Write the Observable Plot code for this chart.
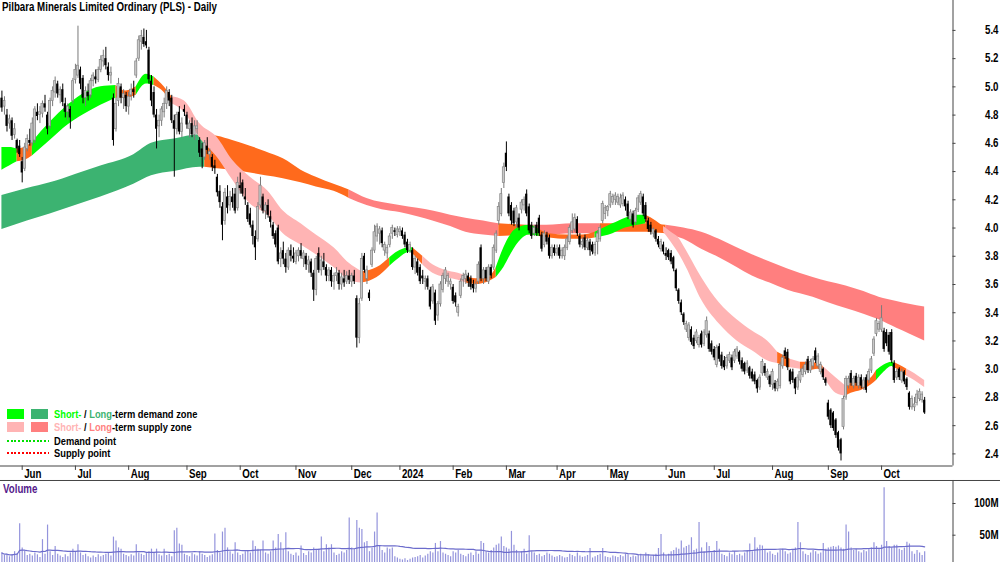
<!DOCTYPE html>
<html><head><meta charset="utf-8">
<script src="https://cdn.jsdelivr.net/npm/d3@7"></script>
<script src="https://cdn.jsdelivr.net/npm/@observablehq/plot@0.6"></script>
<style>
html,body{margin:0;padding:0;background:#fff;}
#chart{position:relative;width:1000px;height:562px;overflow:hidden;background:#fff;}
#chart svg{display:block;position:absolute;left:0;}
.ov{position:absolute;white-space:nowrap;font-family:'Liberation Sans',Arial,sans-serif;font-size:12px;font-weight:bold;line-height:14px;transform:scaleX(0.81);transform-origin:0 50%;}
</style></head><body><div id="chart"></div>
<script>
// ---------- DATA ----------
// trading-day index 0 = 22 May 2023 ... 364 = 24 Oct 2024
const openP = [
4.92,4.86,4.80,4.74,4.76,4.66,4.62,4.58,4.47,4.42,
4.56,4.62,4.60,4.62,4.82,4.80,4.81,4.88,4.80,4.72,
4.90,4.96,5.02,4.94,4.98,4.88,4.82,4.84,4.90,5.05,
5.08,5.12,5.06,4.92,4.96,4.94,5.04,5.07,5.05,5.12,
5.18,5.20,5.14,5.08,4.92,4.70,4.90,5.00,4.92,4.94,
4.86,4.94,4.98,5.08,5.20,5.32,5.35,5.32,5.26,5.04,
4.96,4.80,4.72,4.76,4.82,4.88,4.96,4.92,4.76,4.70,
4.82,4.68,4.84,4.80,4.70,4.74,4.66,4.70,4.62,4.56,
4.50,4.58,4.52,4.50,4.44,4.36,4.26,4.15,4.05,4.22,
4.16,4.22,4.24,4.14,4.30,4.32,4.22,4.16,4.10,4.02,
3.94,3.92,4.16,4.22,4.12,4.16,4.08,4.02,3.96,4.00,
3.78,3.84,3.78,3.72,3.84,3.80,3.76,3.80,3.84,3.78,
3.80,3.74,3.76,3.68,3.56,3.82,3.70,3.76,3.72,3.66,
3.70,3.62,3.66,3.68,3.60,3.64,3.62,3.66,3.62,3.66,
3.50,3.22,3.50,3.80,3.64,3.54,3.74,3.84,3.94,3.96,
3.98,3.84,3.82,3.88,3.96,3.98,3.95,3.97,3.98,3.95,
3.90,3.84,3.84,3.72,3.76,3.72,3.66,3.62,3.64,3.56,
3.48,3.54,3.38,3.46,3.56,3.64,3.62,3.60,3.58,3.52,
3.40,3.52,3.63,3.64,3.66,3.64,3.60,3.57,3.62,3.86,
3.64,3.70,3.62,3.72,3.72,3.84,4.05,4.10,4.32,4.53,
4.22,4.16,4.12,4.04,4.07,4.13,4.16,4.24,4.15,4.02,
3.96,4.02,4.07,3.95,3.88,3.95,3.93,3.80,3.86,3.82,
3.86,3.80,3.80,3.86,3.90,3.98,3.99,4.06,3.94,3.88,
3.93,3.86,3.90,3.88,3.82,3.90,3.92,4.05,4.10,4.12,
4.16,4.18,4.20,4.18,4.16,4.17,4.20,4.17,4.06,4.10,
4.04,4.13,4.18,4.22,4.16,4.05,4.02,3.96,3.98,3.92,
3.85,3.88,3.82,3.84,3.82,3.79,3.70,3.56,3.47,3.39,
3.28,3.22,3.28,3.22,3.20,3.17,3.25,3.18,3.24,3.25,
3.18,3.14,3.03,3.16,3.10,3.06,3.02,3.06,3.08,3.06,
3.09,3.12,3.06,3.04,2.99,3.01,2.98,2.96,2.92,2.87,
2.97,3.02,2.94,2.95,2.89,2.90,2.86,2.88,3.02,3.13,
3.12,2.99,2.98,2.93,2.87,2.92,2.96,2.98,3.07,2.99,
3.02,3.13,3.02,2.98,3.00,2.93,2.76,2.71,2.69,2.64,
2.55,2.50,2.59,2.80,2.88,2.97,2.88,2.95,2.88,2.94,
2.87,2.94,2.92,2.99,3.11,3.25,3.28,3.28,3.27,3.26,
3.24,3.26,3.04,2.94,3.00,2.92,2.98,2.93,2.83,2.73,
2.73,2.76,2.79,2.78,2.78];
const highP = [
4.97,4.93,4.84,4.80,4.78,4.74,4.63,4.62,4.50,4.60,
4.66,4.70,4.78,4.86,4.88,4.86,4.90,4.94,4.82,4.92,
5.00,5.07,5.04,5.00,5.02,4.92,4.88,4.86,5.06,5.16,
5.43,5.14,5.08,5.00,5.02,5.06,5.10,5.12,5.14,5.22,
5.26,5.28,5.17,5.14,4.95,4.92,5.06,5.02,4.98,4.96,
4.96,5.02,5.04,5.20,5.36,5.40,5.41,5.40,5.28,5.08,
5.00,4.84,4.80,4.86,4.92,5.00,4.98,4.94,4.80,4.82,
4.86,4.78,4.87,4.82,4.76,4.78,4.76,4.76,4.64,4.60,
4.62,4.64,4.56,4.52,4.48,4.38,4.30,4.18,4.28,4.30,
4.26,4.28,4.28,4.36,4.39,4.34,4.28,4.18,4.14,4.05,
3.98,4.18,4.36,4.24,4.18,4.20,4.12,4.04,3.98,4.02,
3.86,3.90,3.82,3.86,3.88,3.86,3.84,3.86,3.89,3.84,
3.82,3.80,3.78,3.70,3.80,3.86,3.80,3.82,3.74,3.72,
3.72,3.68,3.72,3.70,3.68,3.70,3.69,3.70,3.68,3.70,
3.52,3.50,3.82,3.82,3.73,3.56,3.86,4.02,4.03,4.01,
4.00,3.90,3.88,3.96,4.02,4.00,4.01,4.01,4.00,3.97,
3.92,3.90,3.86,3.80,3.78,3.74,3.70,3.66,3.66,3.58,
3.60,3.56,3.48,3.62,3.68,3.72,3.68,3.64,3.60,3.54,
3.46,3.64,3.68,3.70,3.68,3.66,3.63,3.62,3.76,3.88,
3.72,3.72,3.74,3.74,3.88,3.98,4.18,4.28,4.46,4.61,
4.24,4.18,4.14,4.16,4.10,4.20,4.22,4.27,4.17,4.04,
4.02,4.04,4.09,3.97,3.98,3.97,3.95,3.88,3.88,3.88,
3.88,3.86,3.88,3.94,4.02,4.10,4.10,4.08,3.96,3.93,
3.95,3.93,3.92,3.90,3.90,3.98,4.02,4.19,4.16,4.16,
4.26,4.24,4.25,4.24,4.24,4.25,4.22,4.19,4.13,4.12,
4.14,4.23,4.26,4.24,4.18,4.07,4.04,4.00,3.99,3.94,
3.92,3.90,3.86,3.85,3.84,3.80,3.71,3.57,3.49,3.40,
3.34,3.33,3.30,3.24,3.28,3.24,3.27,3.28,3.37,3.27,
3.20,3.16,3.17,3.18,3.12,3.09,3.10,3.12,3.10,3.14,
3.16,3.13,3.08,3.05,3.06,3.02,3.00,2.98,2.93,2.96,
3.07,3.04,3.00,2.96,3.00,2.92,2.93,3.05,3.10,3.15,
3.14,3.00,3.00,2.94,2.96,3.00,3.02,3.05,3.09,3.07,
3.09,3.15,3.11,3.05,3.01,2.94,2.78,2.72,2.70,2.65,
2.56,2.51,2.81,2.95,2.95,2.99,2.95,2.97,2.96,2.96,
2.94,2.96,3.00,3.09,3.23,3.36,3.34,3.45,3.29,3.28,
3.26,3.28,3.06,3.00,3.01,3.00,2.99,2.94,2.84,2.81,
2.80,2.85,2.86,2.84,2.80];
const lowP = [
4.82,4.80,4.68,4.70,4.62,4.63,4.53,4.50,4.32,4.40,
4.54,4.58,4.58,4.60,4.76,4.74,4.78,4.82,4.66,4.70,
4.86,4.92,4.92,4.88,4.86,4.78,4.76,4.70,4.88,5.02,
5.06,4.98,4.88,4.86,4.90,4.92,5.00,5.02,5.03,5.10,
5.14,5.12,5.04,5.02,4.58,4.68,4.86,4.88,4.84,4.82,
4.80,4.90,4.92,5.06,5.18,5.26,5.28,5.27,5.02,4.86,
4.78,4.56,4.64,4.72,4.78,4.84,4.86,4.74,4.36,4.66,
4.66,4.64,4.79,4.70,4.64,4.64,4.62,4.66,4.50,4.42,
4.48,4.52,4.48,4.40,4.38,4.22,4.14,3.91,4.02,4.10,
4.12,4.14,4.10,4.12,4.24,4.22,4.16,4.04,4.00,3.88,
3.77,3.90,4.14,4.10,4.06,4.07,4.00,3.92,3.86,3.74,
3.72,3.74,3.68,3.70,3.76,3.75,3.74,3.76,3.78,3.72,
3.70,3.68,3.65,3.48,3.52,3.68,3.66,3.70,3.62,3.62,
3.58,3.56,3.62,3.56,3.56,3.58,3.60,3.60,3.58,3.60,
3.15,3.18,3.48,3.68,3.60,3.48,3.72,3.82,3.90,3.88,
3.86,3.80,3.78,3.86,3.92,3.94,3.93,3.94,3.92,3.86,
3.82,3.82,3.70,3.67,3.66,3.60,3.60,3.56,3.56,3.42,
3.46,3.31,3.34,3.44,3.54,3.60,3.58,3.56,3.46,3.44,
3.37,3.50,3.58,3.60,3.58,3.56,3.54,3.54,3.60,3.62,
3.60,3.62,3.60,3.64,3.70,3.82,4.02,4.08,4.28,4.40,
4.08,4.02,4.01,4.00,3.98,4.10,4.12,4.08,3.96,3.92,
3.94,3.94,3.94,3.83,3.86,3.88,3.78,3.78,3.80,3.80,
3.78,3.78,3.77,3.84,3.88,3.96,3.97,3.94,3.86,3.85,
3.84,3.84,3.80,3.81,3.80,3.81,3.90,4.03,4.06,4.08,
4.14,4.16,4.16,4.16,4.14,4.15,4.12,4.06,4.03,4.00,
4.02,4.11,4.16,4.08,4.04,3.97,3.95,3.93,3.90,3.86,
3.83,3.81,3.77,3.77,3.74,3.69,3.55,3.46,3.38,3.31,
3.26,3.20,3.17,3.14,3.18,3.15,3.15,3.16,3.22,3.12,
3.10,3.06,3.01,3.05,3.00,2.99,3.00,3.04,2.99,3.04,
3.07,3.03,2.98,2.96,2.97,2.93,2.91,2.89,2.83,2.85,
2.95,2.95,2.92,2.87,2.85,2.84,2.84,2.86,3.00,3.07,
2.99,2.89,2.90,2.82,2.85,2.90,2.94,2.96,2.97,2.97,
3.00,3.04,3.00,2.96,2.92,2.88,2.64,2.58,2.56,2.51,
2.42,2.35,2.57,2.78,2.86,2.88,2.86,2.88,2.86,2.86,
2.85,2.83,2.90,2.97,3.09,3.23,3.26,3.26,3.12,3.16,
3.10,3.04,2.90,2.92,2.92,2.90,2.89,2.85,2.71,2.71,
2.70,2.74,2.77,2.76,2.68];
const closeP = [
4.85,4.90,4.72,4.77,4.65,4.70,4.56,4.52,4.39,4.57,
4.63,4.60,4.74,4.84,4.79,4.82,4.88,4.85,4.70,4.90,
4.97,5.04,4.95,4.98,4.89,4.82,4.86,4.78,5.04,5.12,
5.15,5.02,4.92,4.97,4.93,5.04,5.08,5.05,5.12,5.19,
5.22,5.15,5.08,5.10,4.62,4.88,5.02,4.92,4.95,4.86,
4.93,4.98,4.96,5.18,5.33,5.36,5.30,5.29,5.05,4.90,
4.80,4.70,4.76,4.84,4.88,4.97,4.90,4.76,4.70,4.80,
4.68,4.74,4.82,4.73,4.74,4.66,4.72,4.72,4.53,4.50,
4.60,4.55,4.54,4.43,4.42,4.25,4.18,4.02,4.25,4.14,
4.22,4.18,4.12,4.32,4.28,4.24,4.20,4.06,4.02,3.94,
3.86,4.15,4.30,4.12,4.16,4.09,4.04,3.94,3.88,3.76,
3.82,3.78,3.72,3.84,3.80,3.78,3.82,3.84,3.80,3.82,
3.74,3.77,3.68,3.56,3.78,3.70,3.77,3.72,3.66,3.70,
3.62,3.66,3.68,3.60,3.65,3.61,3.66,3.63,3.66,3.62,
3.22,3.46,3.78,3.70,3.70,3.50,3.84,3.97,4.01,3.99,
3.89,3.88,3.86,3.94,4.00,3.97,3.99,3.99,3.94,3.88,
3.84,3.88,3.72,3.78,3.68,3.62,3.64,3.64,3.58,3.44,
3.58,3.34,3.46,3.60,3.66,3.70,3.66,3.62,3.48,3.47,
3.44,3.62,3.66,3.67,3.62,3.58,3.57,3.60,3.74,3.64,
3.70,3.64,3.72,3.66,3.86,3.96,4.15,4.24,4.43,4.43,
4.10,4.05,4.03,4.14,4.00,4.18,4.20,4.10,3.98,3.94,
4.00,3.96,3.96,3.85,3.96,3.90,3.80,3.86,3.82,3.85,
3.80,3.84,3.86,3.92,4.00,4.04,4.07,3.96,3.88,3.90,
3.86,3.91,3.84,3.83,3.88,3.96,4.00,4.17,4.14,4.15,
4.24,4.22,4.23,4.22,4.21,4.23,4.15,4.08,4.11,4.02,
4.12,4.21,4.24,4.10,4.06,3.99,3.97,3.99,3.92,3.88,
3.90,3.83,3.80,3.79,3.76,3.71,3.57,3.48,3.40,3.33,
3.32,3.31,3.19,3.16,3.26,3.22,3.17,3.26,3.34,3.14,
3.12,3.08,3.15,3.07,3.02,3.01,3.08,3.10,3.01,3.12,
3.14,3.05,3.00,2.98,3.04,2.95,2.93,2.91,2.86,2.94,
3.05,2.97,2.98,2.89,2.98,2.86,2.91,3.03,3.08,3.09,
3.01,2.91,2.92,2.86,2.94,2.98,3.00,3.03,2.99,3.05,
3.07,3.06,3.09,3.03,2.94,2.90,2.66,2.60,2.58,2.53,
2.44,2.40,2.79,2.93,2.93,2.90,2.93,2.90,2.94,2.88,
2.92,2.85,2.98,3.07,3.21,3.34,3.32,3.36,3.14,3.18,
3.12,3.06,2.92,2.98,2.94,2.98,2.91,2.87,2.73,2.79,
2.75,2.82,2.84,2.82,2.69];
const volumeM = [
22,18,20,16,19,24,21,68,30,25,
18,20,17,22,19,15,43,20,66,24,
18,32,20,17,15,19,16,22,28,24,
35,22,18,20,16,14,17,15,19,16,
18,20,22,17,47,41,30,28,20,18,
16,19,17,35,22,20,18,21,24,28,
22,28,19,17,28,18,20,16,57,61,
36,34,20,18,16,22,19,17,24,20,
18,15,17,19,52,26,22,55,61,30,
24,20,38,22,18,20,24,26,22,41,
32,28,26,41,22,20,24,41,30,51,
38,28,54,24,20,18,22,17,33,21,
18,24,22,30,26,28,47,24,35,30,
35,22,18,20,24,22,26,77,30,28,
73,61,59,38,40,24,30,55,85,32,
26,22,30,28,30,16,14,12,11,13,
10,12,14,15,16,18,14,17,20,24,
22,37,24,40,22,20,18,16,24,22,
26,20,18,16,20,22,18,24,20,40,
37,24,22,26,30,34,36,47,32,30,
28,56,34,26,22,24,28,20,49,24,
22,18,20,16,18,22,20,17,15,16,
18,16,14,15,20,18,16,22,17,15,
16,18,29,14,16,18,20,29,16,15,
14,17,16,15,18,16,20,19,15,17,
16,18,20,17,22,19,16,18,20,29,
51,22,18,20,24,26,30,28,41,30,
32,34,46,26,28,70,30,24,38,32,
22,26,40,28,20,18,16,22,19,24,
18,20,17,22,26,36,24,46,30,34,
33,26,22,24,20,18,22,26,28,24,
20,22,26,30,70,38,24,20,18,22,
26,24,20,22,37,28,30,31,32,31,
33,30,28,66,55,30,26,28,24,22,
26,24,28,30,38,32,28,34,125,40,
32,30,34,34,28,26,30,39,36,24,
20,26,22,18,24];

// Short-term zone samples (trading-day index, upper, lower, state: G demand / P supply / O neutral)
const stIdx = [0,3,6,9,12,19,26,32,39,45,49,53,57,60,64,67,72,78,85,91,98,105,111,118,124,131,137,142,148,153,157,161,162,166,170,175,180,183,187,192,195,198,201,205,208,212,216,223,229,234,241,246,251,254,258,261,264,267,270,276,283,290,296,302,306,309,311,315,318,322,324,329,333,335,339,343,345,348,351,352,354,357,360,364];
const stHi = [4.57,4.57,4.56,4.57,4.61,4.75,4.87,4.95,5.00,5.01,4.97,5.00,5.09,5.07,5.00,4.93,4.90,4.74,4.64,4.48,4.36,4.26,4.12,4.03,3.95,3.86,3.75,3.69,3.72,3.79,3.84,3.86,3.86,3.80,3.74,3.70,3.68,3.66,3.64,3.65,3.72,3.86,3.96,4.01,4.02,3.99,3.96,3.95,3.95,3.97,4.03,4.07,4.09,4.09,4.05,4.01,3.97,3.93,3.84,3.65,3.47,3.35,3.27,3.20,3.12,3.09,3.07,3.05,3.05,3.04,3.02,2.94,2.88,2.90,2.91,2.94,2.99,3.03,3.05,3.05,3.03,3.00,2.97,2.92];
const stLo = [4.41,4.44,4.47,4.48,4.51,4.62,4.73,4.80,4.87,4.92,4.92,4.94,5.02,5.01,4.96,4.88,4.82,4.64,4.50,4.34,4.17,4.09,3.96,3.88,3.81,3.72,3.63,3.61,3.65,3.73,3.79,3.83,3.82,3.74,3.68,3.65,3.63,3.61,3.60,3.62,3.65,3.72,3.82,3.92,3.95,3.94,3.93,3.92,3.92,3.93,3.96,4.00,4.02,4.03,4.00,3.97,3.90,3.82,3.72,3.49,3.32,3.20,3.13,3.06,3.04,3.02,3.01,3.00,2.99,3.00,2.96,2.83,2.81,2.83,2.85,2.89,2.92,2.98,3.02,3.01,2.99,2.95,2.92,2.87];
const stState = ["G","G","O","O","G","G","G","G","G","O","O","G","G","O","O","P","P","P","P","P","P","P","P","P","P","P","P","O","O","G","G","G","O","P","P","P","P","O","O","O","G","G","G","G","G","O","O","O","O","G","G","G","G","O","O","P","P","P","P","P","P","P","P","P","O","O","P","O","O","O","P","P","O","O","O","O","G","G","G","O","O","P","P","P"];

// Long-term zone samples
const ltIdx = [0,10,19,29,39,52,59,68,78,80,85,91,98,104,111,118,124,131,137,144,150,157,164,170,177,183,190,196,207,215,225,236,244,252,262,269,276,283,290,296,303,310,320,326,333,340,346,353,358,364];
const ltHi = [4.23,4.28,4.32,4.38,4.44,4.52,4.60,4.63,4.66,4.66,4.65,4.62,4.58,4.54,4.49,4.41,4.36,4.31,4.27,4.21,4.18,4.16,4.14,4.12,4.09,4.07,4.05,4.03,4.02,4.02,4.03,4.03,4.03,4.03,4.02,4.00,3.97,3.92,3.86,3.81,3.76,3.71,3.65,3.62,3.59,3.55,3.51,3.48,3.46,3.44];
const ltLo = [3.99,4.05,4.10,4.16,4.22,4.31,4.37,4.40,4.43,4.43,4.42,4.41,4.39,4.37,4.35,4.32,4.29,4.26,4.21,4.16,4.13,4.11,4.08,4.05,4.01,3.97,3.95,3.94,3.95,3.95,3.96,3.96,3.97,3.97,3.96,3.92,3.85,3.79,3.72,3.66,3.61,3.56,3.51,3.47,3.43,3.39,3.35,3.29,3.25,3.20];
const ltState = ["G","G","G","G","G","G","G","G","G","O","O","O","O","O","O","O","O","O","P","P","P","P","P","P","P","P","P","O","P","P","P","O","O","O","P","P","P","P","P","P","P","P","P","P","P","P","P","P","P","P"];

// Axis ticks
const monthLabels = ["Jun","Jul","Aug","Sep","Oct","Nov","Dec","2024","Feb","Mar","Apr","May","Jun","Jul","Aug","Sep","Oct"];
const monthStartIdx = [8,29,50,73,94,116,138,157,178,199,219,239,262,281,304,326,347];
const priceTicks = [2.4,2.6,2.8,3.0,3.2,3.4,3.6,3.8,4.0,4.2,4.4,4.6,4.8,5.0,5.2,5.4];
const volumeTicks = [50,100];

const titleText = "Pilbara Minerals Limited Ordinary (PLS) - Daily";

// ---------- BUILD ----------
const FONT = "'Liberation Sans',Arial,sans-serif";
const ST_COL = {G:"#00ff00", P:"#ffb4b4", O:"#ff6a1c"};
const LT_COL = {G:"#3cb371", P:"#ff7f7f", O:"#ff6a1c"};

const candles = closeP.map((c,i)=>({i, o:openP[i], h:highP[i], l:lowP[i], c}));
const up = candles.filter(d=>d.c>=d.o);
const down = candles.filter(d=>d.c<d.o);
const volData = volumeM.map((v,i)=>({i, v}));
const monthTicks = monthLabels.map((label,k)=>({label, i:monthStartIdx[k]}));

function segments(idx, hi, lo, state){
  const segs=[]; let start=0;
  for(let k=1;k<idx.length;k++){
    if(k===idx.length-1 || state[k]!==state[start]){
      const pts=[];
      for(let j=start;j<=k;j++) pts.push({i:idx[j], hi:hi[j], lo:lo[j]});
      segs.push({state:state[start], pts});
      start=k;
    }
  }
  return segs;
}
const stSegs = segments(stIdx, stHi, stLo, stState);
const ltSegs = segments(ltIdx, ltHi, ltLo, ltState);

const PX = 2.535;                       // pixels per trading day
const xDomain = [-0.56, 375.18];
const xEnd = xDomain[1];
const yBottom = 2.3143, yTop = 5.6118;
const style = {fontFamily:FONT, fontSize:"12px", fontWeight:"bold", color:"#000", background:"transparent", overflow:"visible"};

const pricePlot = Plot.plot({
  width:1000, height:478,
  marginLeft:0, marginRight:47.5, marginTop:0, marginBottom:12.5,
  x:{domain:xDomain, axis:null},
  y:{domain:[yBottom, yTop], axis:null},
  style,
  marks:[
    ...ltSegs.map(s=>Plot.areaY(s.pts,{x:"i", y1:"lo", y2:"hi", fill:LT_COL[s.state], curve:"monotone-x"})),
    ...stSegs.map(s=>Plot.areaY(s.pts,{x:"i", y1:"lo", y2:"hi", fill:ST_COL[s.state], curve:"monotone-x"})),
    Plot.ruleX(up,{x:"i", y1:"l", y2:"h", stroke:"#7a7a7a", strokeWidth:1}),
    Plot.ruleX(down,{x:"i", y1:"l", y2:"h", stroke:"#000", strokeWidth:1}),
    Plot.rect(up,{x1:d=>d.i-0.42, x2:d=>d.i+0.42, y1:"o", y2:d=>d.c===d.o?d.c+0.005:d.c, fill:"#c8c8c8", stroke:"#858585", strokeWidth:0.7}),
    Plot.rect(down,{x1:d=>d.i-0.42, x2:d=>d.i+0.42, y1:"o", y2:"c", fill:"#000"}),
    Plot.ruleX([xEnd],{y1:yBottom, y2:yTop, stroke:"#444"}),
    Plot.ruleY([yBottom],{x1:xDomain[0], x2:xEnd, stroke:"#444"}),
    Plot.ruleX(monthTicks,{x:"i", y1:yBottom, y2:2.283, stroke:"#444"}),
    Plot.text(monthTicks,{x:"i", y:2.259, text:"label", textAnchor:"start", dx:2}),
    Plot.ruleY(priceTicks,{x1:xEnd, x2:xEnd+3/PX, stroke:"#444"}),
    Plot.text(priceTicks,{x:xEnd, y:d=>d, text:d=>d.toFixed(1), textAnchor:"end", dx:45.5})
  ]
});

const vTop = 139.4, vBottom = 6.94;
const vLine = vTop - 2/0.6342;          // separator line at y = 480
const volPlot = Plot.plot({
  width:1000, height:84,
  marginLeft:0, marginRight:47.5, marginTop:0, marginBottom:0,
  x:{domain:xDomain, axis:null},
  y:{domain:[vBottom, vTop], axis:null},
  style,
  marks:[
    Plot.ruleX(volData,{x:"i", y1:0, y2:"v", stroke:"#9494dc", strokeWidth:1.2, clip:true}),
    Plot.lineY(volData, Plot.windowY({k:50, anchor:"end"},{x:"i", y:"v", stroke:"#6c6ccc", strokeWidth:1.2})),
    Plot.ruleY([vLine],{x1:xDomain[0], x2:xDomain[0]+1000/PX, stroke:"#444"}),
    Plot.ruleX([xEnd],{y1:vBottom, y2:vLine, stroke:"#444"}),
    Plot.ruleY(volumeTicks,{x1:xEnd, x2:xEnd+3/PX, stroke:"#444"}),
    Plot.text(volumeTicks,{x:xEnd, y:d=>d, text:d=>d+"M", textAnchor:"end", dx:45.5})
  ]
});

// condense SVG texts horizontally (narrow bold look): scale about each text's own anchor point
const SX = 0.81;
function narrow(svg){
  svg.querySelectorAll("text").forEach(t=>{
    const tr=t.getAttribute("transform")||"";
    const x=t.getAttribute("x");
    if(x!==null && !isNaN(+x)) t.setAttribute("x", (+x)/SX);
    t.setAttribute("transform", (tr+` scale(${SX},1)`).trim());
  });
}
narrow(pricePlot); narrow(volPlot);

const chart = document.getElementById("chart");
pricePlot.style.top = "0px";
volPlot.style.top = "478px";
chart.appendChild(pricePlot);
chart.appendChild(volPlot);

function addDiv(html, css){
  const d=document.createElement("div");
  d.className="ov"; d.innerHTML=html; Object.assign(d.style, css);
  chart.appendChild(d); return d;
}
addDiv(titleText, {left:"2px", top:"0px", lineHeight:"15px", color:"#000"});
addDiv("Volume", {left:"3px", top:"482px", lineHeight:"15px", color:"#551a8b"});

// legend
const legendRows = [
  {y:414.3, sw:[ST_COL.G, LT_COL.G], parts:[["Short-",ST_COL.G],[" / ","#000"],["Long",LT_COL.G],["-term demand zone","#000"]]},
  {y:426.8, sw:[ST_COL.P, LT_COL.P], parts:[["Short-",ST_COL.P],[" / ","#000"],["Long",LT_COL.P],["-term supply zone","#000"]]},
  {y:441.2, dot:"#00e000", parts:[["Demand point","#000"]]},
  {y:453.0, dot:"#ff0000", parts:[["Supply point","#000"]]}
];
legendRows.forEach(r=>{
  if(r.sw){
    r.sw.forEach((c,k)=>{
      const s=document.createElement("div");
      Object.assign(s.style,{position:"absolute", left:(7+24*k)+"px", top:(r.y-5.2)+"px", width:"17px", height:"10.4px", background:c});
      chart.appendChild(s);
    });
  } else {
    const s=document.createElement("div");
    Object.assign(s.style,{position:"absolute", left:"7px", top:(r.y-1)+"px", width:"42px", height:"2px",
      background:`repeating-linear-gradient(to right, ${r.dot} 0 2px, transparent 2px 3.7px)`});
    chart.appendChild(s);
  }
  addDiv(r.parts.map(([t,c])=>`<span style="color:${c}">${t}</span>`).join(""), {left:"54px", top:(r.y-5)+"px", lineHeight:"10px", fontSize:"11.5px", color:"#000"});
});
</script></body></html>
